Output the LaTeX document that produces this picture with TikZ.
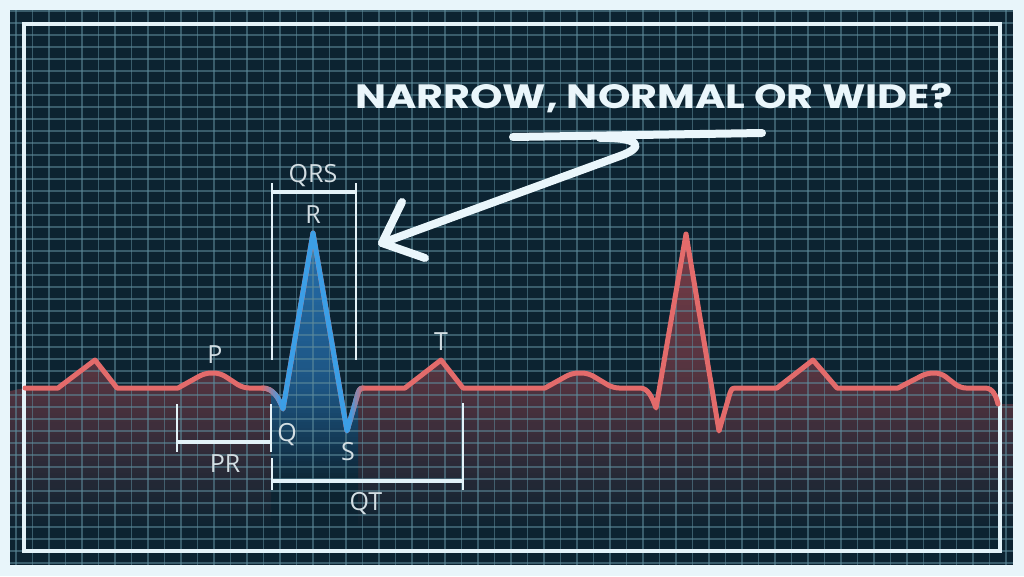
\documentclass[tikz,border=0pt]{standalone}
\usepackage{fontspec}
\setmainfont{Open Sans}
\newfontfamily\hand{Poppins}

\definecolor{outerbg}{HTML}{E8F5FA}
\definecolor{panel}{HTML}{0C2331}
\definecolor{gridc}{HTML}{5E8C9C}
\definecolor{framec}{HTML}{E3F2F8}
\definecolor{ecgred}{HTML}{E36B6B}
\definecolor{ecgfill}{HTML}{C04C55}
\definecolor{ecgblue}{HTML}{3C9EE6}
\definecolor{bluefill}{HTML}{2C82CC}
\definecolor{labelc}{HTML}{D3DEE3}
\definecolor{marker}{HTML}{EAF6FB}

\def\ecgpath{(25,388) -- (58,388) -- (95,360) -- (117,388) -- (178,388)
  [rounded corners=6pt] -- (205,373) -- (220,373) -- (243,388) [sharp corners] -- (263,388)
  .. controls (273,388) and (279,398) .. (283,409) -- (313,233) -- (347,431) -- (358,393)
  .. controls (360,388) .. (366,388) -- (405,388) -- (441,360) -- (463,388) -- (545,388)
  [rounded corners=6pt] -- (572,373) -- (588,373) -- (613,388) [sharp corners] -- (640,388)
  .. controls (648,388) and (652,397) .. (656,408) -- (686,234) -- (719,431) -- (730,393)
  .. controls (732,388) .. (738,388) -- (777,388) -- (813,360) -- (837,388) -- (898,388)
  [rounded corners=6pt] -- (927,373) -- (941,373) -- (960,388) [sharp corners] -- (985,388)
  .. controls (993,388) and (996,396) .. (998,404)}

\def\qrspath{(262,388) .. controls (273,388) and (279,398) .. (283,409) -- (313,233)
  -- (347,431) -- (358,393) .. controls (360,388) .. (366,388)}

\tikzset{
  gridline/.style={draw=gridc, line width=1.4pt, draw opacity=0.55},
  trace/.style={line width=5pt, line join=round, line cap=round},
  lab/.style={text=labelc, font=\fontsize{25}{25}\selectfont, inner sep=0pt, anchor=base},
  bar/.style={draw=framec, line width=4pt},
  tick/.style={draw=framec, line width=1.5pt},
  pen/.style={draw=marker, line width=8pt, line cap=round, line join=round}
}

\begin{document}
\begin{tikzpicture}[x=1pt,y=-1pt]
\useasboundingbox (0,0) rectangle (1024,576);
\fill[outerbg] (0,0) rectangle (1024,576);
\fill[panel] (10,10) rectangle (1013,565);

% red fill under trace (banded gradient)
\begin{scope}
  \clip (0,0) rectangle (271,576) (358,0) rectangle (1024,576);
  \clip (10,391) -- \ecgpath -- (1013,404) -- (1013,565) -- (10,565) -- cycle;
  \foreach \y in {230,233,...,545} {
    \pgfmathtruncatemacro\p{ifthenelse(\y<388, 60-(\y-234)*22/154, max(0,38-(\y-388)*38/142))}
    \fill[ecgfill!\p!panel] (10,\y) rectangle (1013,{\y+3.5});
  }
\end{scope}

% blue fill under QRS (banded gradient)
\begin{scope}
  \clip (271,200) rectangle (358,500);
  \clip \qrspath -- (366,490) -- (262,490) -- cycle;
  \foreach \y in {230,233,...,490} {
    \pgfmathtruncatemacro\p{ifthenelse(\y<388, 80-(\y-233)*28/155, max(0,52-(\y-388)*52/97))}
    \fill[bluefill!\p!panel] (262,\y) rectangle (366,{\y+3.5});
  }
\end{scope}

% grid
\foreach \i in {0,...,60} \draw[gridline] ({16+16.5*\i},10) -- ({16+16.5*\i},565);
\foreach \j in {0,...,46} \draw[gridline] (10,{11+12*\j}) -- (1013,{11+12*\j});

% frame
\draw[draw=framec, line width=4.5pt] (24,24) rectangle (1000,551);

% trace
\draw[ecgred, trace] \ecgpath;
\foreach \k [evaluate=\k as \c using int(10*\k+5)] in {0,...,9} {
  \begin{scope}
    \clip ({261+2*\k},200) rectangle ({263.4+2*\k},450);
    \draw[trace, draw=ecgblue!\c!ecgred] \qrspath;
  \end{scope}
}
\begin{scope}
  \clip (281,200) rectangle (350.3,450);
  \draw[trace, draw=ecgblue] \qrspath;
\end{scope}
\foreach \k [evaluate=\k as \c using int(94-12*\k)] in {0,...,7} {
  \begin{scope}
    \clip ({350+1.75*\k},200) rectangle ({352.1+1.75*\k},450);
    \draw[trace, draw=ecgblue!\c!ecgred] \qrspath;
  \end{scope}
}

% brackets
\draw[tick] (272,183) -- (272,360);
\draw[tick] (356,183) -- (356,360);
\draw[bar] (272,192) -- (356,192);
\draw[tick] (177,404) -- (177,452);
\draw[tick] (271,404) -- (271,452);
\draw[bar] (177,442) -- (271,442);
\draw[tick] (272,458) -- (272,490);
\draw[tick] (463,403) -- (463,490);
\draw[bar] (272,481) -- (463,481);

% labels
\node[lab] (lQRS) at (313,182) {QRS};
\node[lab] (lR) at (313,223) {R};
\node[lab] (lP) at (215,363) {P};
\node[lab] (lT) at (441,350) {T};
\node[lab] (lQ) at (287,441) {Q};
\node[lab] (lS) at (348,460) {S};
\node[lab] (lPR) at (225,472) {PR};
\node[lab] (lQT) at (366,510) {QT};

% handwritten question and arrow
\node[anchor=base west, inner sep=0pt, text=marker] (quest) at (355,108)
  {\resizebox{597pt}{25pt}{\hand\bfseries NARROW, NORMAL OR WIDE?}};
\draw[pen] (513,137) -- (762,133);
\draw[pen] (600,138) .. controls (636,137) and (648,146) .. (620,156) -- (382,243);
\draw[pen] (402,202) -- (382,243) -- (425,258);
\end{tikzpicture}
\end{document}
